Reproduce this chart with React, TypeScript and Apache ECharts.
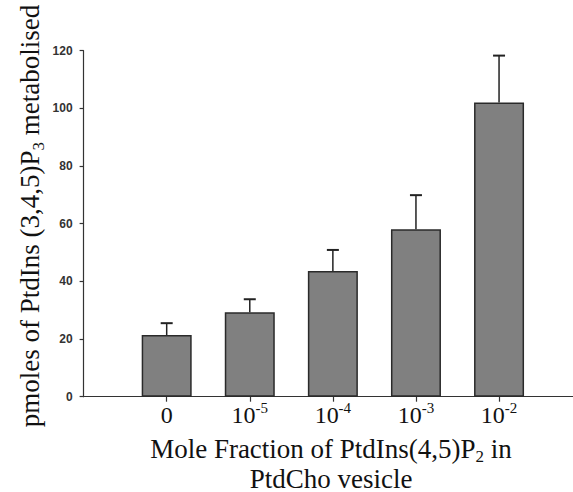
import React, { useEffect, useRef } from "react";
import * as echarts from "echarts";

// Data
const categoryBases = ["0", "10", "10", "10", "10"];
const categoryExponents = ["", "-5", "-4", "-3", "-2"];
const positions = [1, 2, 3, 4, 5];
const meanValues = [21.4, 29.3, 43.6, 58.1, 102.0];
const errorTops = [25.5, 33.8, 50.9, 69.9, 118.3];
const yTicks = [0, 20, 40, 60, 80, 100, 120];
const xTitle = "Mole Fraction of PtdIns(4,5)P{sub|2} in\nPtdCho vesicle";
const yTitle = "pmoles of PtdIns (3,4,5)P{sub|3} metabolised";

export default function App() {
  const ref = useRef<HTMLDivElement>(null);

  useEffect(() => {
    if (!ref.current) return;
    const chart = echarts.init(ref.current, undefined, { renderer: "svg" });

    const barData = positions.map((p, i) => [p, meanValues[i]]);
    const errData = positions.map((p, i) => [p, meanValues[i], errorTops[i]]);

    const serif = "Liberation Serif, Times New Roman, serif";
    const subRich = {
      sub: {
        font: "17px Liberation Serif, Times New Roman, serif",
        fill: "#111",
        lineHeight: 30,
        padding: [16, 0, 0, 0],
      },
    };

    chart.setOption({
      animation: false,
      backgroundColor: "#ffffff",
      grid: { left: 83.6, right: 0, top: 50.7, bottom: 95.3, containLabel: false },
      xAxis: {
        type: "value",
        min: 0,
        max: 5.89,
        interval: 1,
        splitLine: { show: false },
        axisLine: { show: true, lineStyle: { color: "#333", width: 1.2 } },
        axisTick: {
          show: true,
          length: 5,
          inside: false,
          customValues: positions,
          lineStyle: { color: "#333", width: 1.2 },
        },
        axisLabel: {
          show: true,
          customValues: positions,
          margin: 3,
          formatter: (v: number) => {
            const i = positions.indexOf(Math.round(v));
            if (i < 0) return "";
            const exp = categoryExponents[i];
            return exp ? `{b|${categoryBases[i]}}{sup|${exp}}` : `{b|${categoryBases[i]}}`;
          },
          rich: {
            b: { fontFamily: serif, fontSize: 24, color: "#111", lineHeight: 31 },
            sup: {
              fontFamily: serif,
              fontSize: 15,
              color: "#111",
              lineHeight: 31,
              padding: [0, 0, 14, 0],
            },
          },
        },
      },
      yAxis: {
        type: "value",
        min: 0,
        max: 120,
        interval: 20,
        splitLine: { show: false },
        axisLine: { show: true, lineStyle: { color: "#333", width: 1.2 } },
        axisTick: { show: true, length: 4, inside: false, lineStyle: { color: "#333", width: 1.2 } },
        axisLabel: {
          margin: 11,
          fontFamily: "Liberation Sans, Arial, sans-serif",
          fontSize: 12,
          fontWeight: "bold",
          color: "#333",
          padding: [0, 0, 5, 0],
          customValues: yTicks,
        },
      },
      graphic: [
        {
          type: "text",
          x: 331,
          y: 433.5,
          silent: true,
          style: {
            text: xTitle,
            font: "27px Liberation Serif, Times New Roman, serif",
            fill: "#111",
            lineHeight: 30,
            align: "center",
            verticalAlign: "top",
            rich: subRich,
          },
        },
        {
          type: "text",
          x: 30,
          y: 216,
          rotation: Math.PI / 2,
          silent: true,
          style: {
            text: yTitle,
            font: "27px Liberation Serif, Times New Roman, serif",
            fill: "#111",
            lineHeight: 30,
            align: "center",
            verticalAlign: "middle",
            rich: subRich,
          },
        },
      ],
      series: [
        {
          type: "bar",
          data: barData,
          barWidth: 50,
          itemStyle: { color: "#808080", borderColor: "#2a2a2a", borderWidth: 1.5 },
          z: 2,
        },
        {
          type: "custom",
          data: errData,
          z: 3,
          renderItem: (params: any, api: any) => {
            const x = api.value(0);
            const y = api.value(1);
            const e = api.value(2);
            const p0 = api.coord([x, y]);
            const p1 = api.coord([x, e]);
            const style = { stroke: "#222", lineWidth: 1.5 };
            return {
              type: "group",
              children: [
                { type: "line", shape: { x1: p0[0], y1: p0[1], x2: p1[0], y2: p1[1] }, style },
                { type: "line", shape: { x1: p1[0] - 6, y1: p1[1], x2: p1[0] + 6, y2: p1[1] }, style: { stroke: "#222", lineWidth: 2 } },
              ],
            };
          },
        },
      ],
    });

    return () => chart.dispose();
  }, []);

  return (
    <div
      ref={ref}
      style={{ position: "absolute", left: 0, top: 0, width: 573, height: 492, background: "#fff" }}
    />
  );
}
